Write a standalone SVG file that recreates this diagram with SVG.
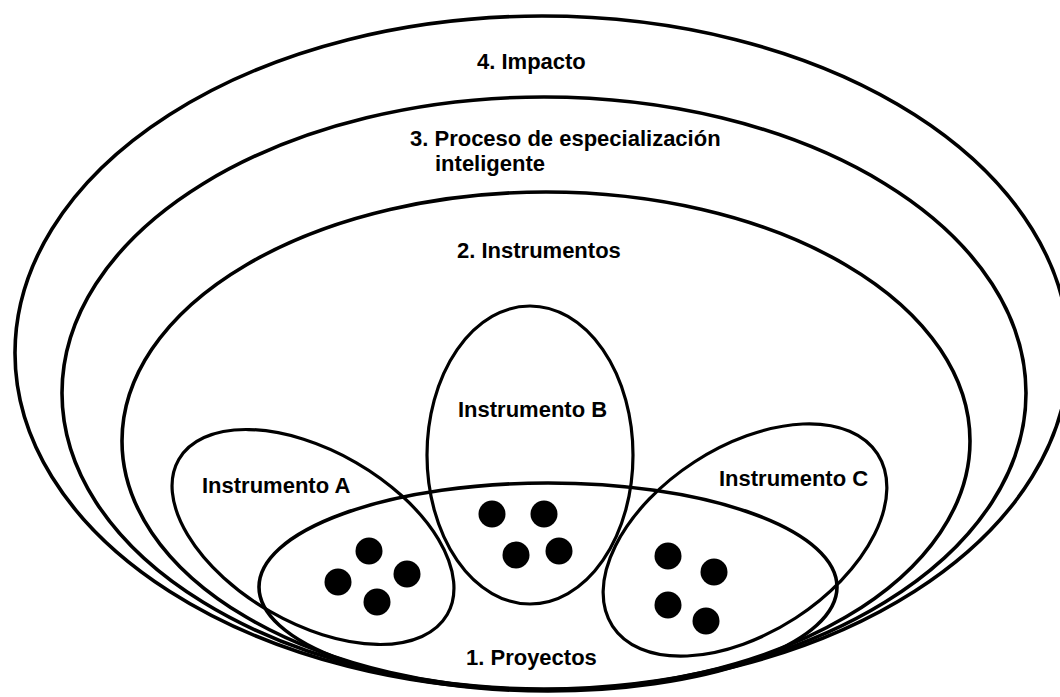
<svg xmlns="http://www.w3.org/2000/svg" width="1060" height="697" viewBox="0 0 1060 697">
<style>
.ring{fill:none;stroke:#000;stroke-width:3.6}
.inst{fill:none;stroke:#000;stroke-width:3.2}
.lbl{font-family:"Liberation Sans",Arial,sans-serif;font-weight:bold;font-size:22px;fill:#000}
.dot{fill:#000}
</style>
<rect width="1060" height="697" fill="#fff"/>
<g id="impacto">
<ellipse class="ring" cx="542" cy="353" rx="527" ry="337"/>
<text class="lbl" x="477" y="69">4. Impacto</text>
</g>
<g id="proceso">
<ellipse class="ring" cx="544" cy="393" rx="482" ry="296"/>
<text class="lbl" x="410" y="146">3. Proceso de especialización</text>
<text class="lbl" x="435" y="171">inteligente</text>
</g>
<g id="instrumentos">
<ellipse class="ring" cx="546" cy="441" rx="424" ry="249"/>
<text class="lbl" x="457" y="258">2. Instrumentos</text>
</g>
<g id="proyectos">
<ellipse class="ring" cx="548" cy="587" rx="289" ry="104" stroke-width="4"/>
<text class="lbl" x="466" y="665">1. Proyectos</text>
</g>
<g id="instrumento-a">
<ellipse class="inst" cx="313" cy="537" rx="155" ry="86" transform="rotate(30 313 537)"/>
<text class="lbl" x="202" y="493">Instrumento A</text>
<circle class="dot" cx="369" cy="551" r="13.5"/>
<circle class="dot" cx="338" cy="582" r="13.5"/>
<circle class="dot" cx="407" cy="574" r="13.5"/>
<circle class="dot" cx="377" cy="602" r="13.5"/>
</g>
<g id="instrumento-b">
<ellipse class="inst" cx="530" cy="455" rx="103" ry="149"/>
<text class="lbl" x="458" y="417">Instrumento B</text>
<circle class="dot" cx="492" cy="514" r="13.5"/>
<circle class="dot" cx="544" cy="514" r="13.5"/>
<circle class="dot" cx="516" cy="555" r="13.5"/>
<circle class="dot" cx="559" cy="551" r="13.5"/>
</g>
<g id="instrumento-c">
<ellipse class="inst" cx="745" cy="540" rx="158" ry="93" transform="rotate(-33 745 540)"/>
<text class="lbl" x="719" y="486">Instrumento C</text>
<circle class="dot" cx="668" cy="556" r="13.5"/>
<circle class="dot" cx="714" cy="572" r="13.5"/>
<circle class="dot" cx="668" cy="605" r="13.5"/>
<circle class="dot" cx="706" cy="621" r="13.5"/>
</g>
</svg>
